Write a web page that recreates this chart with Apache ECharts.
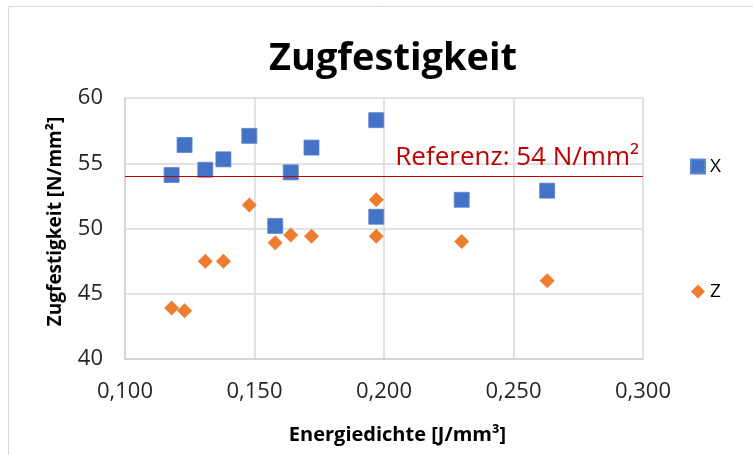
<!DOCTYPE html>
<html>
<head>
<meta charset="utf-8">
<script src="https://cdn.jsdelivr.net/npm/echarts@6/dist/echarts.min.js"></script>
<style>
  html, body { margin: 0; padding: 0; background: #fff; }
  #chart { width: 753px; height: 455px; }
</style>
</head>
<body>
<div id="chart"></div>
<script>
// Energy density [J/mm³] of each specimen pair
const energy = [0.118, 0.123, 0.131, 0.138, 0.148, 0.158, 0.164, 0.172, 0.197, 0.197, 0.230, 0.263];
// Tensile strength [N/mm²] per build direction
const strengthX = [54.1, 56.4, 54.5, 55.3, 57.1, 50.2, 54.3, 56.2, 58.3, 50.9, 52.2, 52.9];
const strengthZ = [43.9, 43.7, 47.5, 47.5, 51.8, 48.9, 49.5, 49.4, 52.2, 49.4, 49.0, 46.0];
const seriesNames = ['X', 'Z'];
const referenceValue = 54;
const xTicks = [0.1, 0.3, 0.05];
const yTicks = [40, 60, 5];

const FONT = '"Open Sans", "Noto Sans", sans-serif';
const pairs = (ys) => energy.map((x, i) => [x, ys[i]]);

const chart = echarts.init(document.getElementById('chart'), null, { renderer: 'canvas' });
chart.setOption({
  animation: false,
  backgroundColor: '#ffffff',
  textStyle: { fontFamily: FONT },
  title: {
    text: 'Zugfestigkeit',
    left: 388,
    top: 35,
    textAlign: 'center',
    textStyle: { fontFamily: FONT, fontSize: 38, fontWeight: 'bold', color: '#000000' }
  },
  grid: { left: 125, top: 98, right: 110, bottom: 96, containLabel: false },
  xAxis: {
    type: 'value',
    min: xTicks[0], max: xTicks[1], interval: xTicks[2],
    name: 'Energiedichte [J/mm³]',
    nameLocation: 'middle',
    nameGap: 66,
    nameTextStyle: { fontFamily: FONT, fontSize: 20, fontWeight: 'bold', color: '#000000', padding: [0, 0, 0, 27] },
    axisLine: { show: true, lineStyle: { color: '#D0D0D0', width: 1.5 } },
    axisTick: { show: false },
    splitLine: { show: true, lineStyle: { color: '#D9D9D9', width: 1.5 } },
    axisLabel: {
      fontFamily: FONT, fontSize: 22, color: '#262626', margin: 22,
      formatter: (v) => v.toFixed(3).replace('.', ',')
    }
  },
  yAxis: {
    type: 'value',
    min: yTicks[0], max: yTicks[1], interval: yTicks[2],
    name: 'Zugfestigkeit [N/mm²]',
    nameLocation: 'middle',
    nameGap: 60,
    nameTextStyle: { fontFamily: FONT, fontSize: 19, fontWeight: 'bold', color: '#000000', padding: [0, 0, 0, 14] },
    axisLine: { show: true, lineStyle: { color: '#D0D0D0', width: 1.5 } },
    axisTick: { show: false },
    splitLine: { show: true, lineStyle: { color: '#D9D9D9', width: 1.5 } },
    axisLabel: { fontFamily: FONT, fontSize: 22, color: '#262626', margin: 22 }
  },
  legend: {
    orient: 'vertical',
    left: 685,
    top: 152,
    itemWidth: 14,
    itemHeight: 14,
    itemGap: 106,
    textStyle: { fontFamily: FONT, fontSize: 19, color: '#000000', padding: [0, 0, 0, 0] },
    data: [
      { name: seriesNames[0], icon: 'rect' },
      { name: seriesNames[1], icon: 'diamond' }
    ]
  },
  graphic: [{
    type: 'rect',
    shape: { x: 8.5, y: 6.5, width: 800, height: 500 },
    style: { fill: 'none', stroke: '#D9D9D9', lineWidth: 1 },
    silent: true,
    z: -1
  }],
  series: [
    {
      name: seriesNames[0],
      type: 'scatter',
      symbol: 'rect',
      symbolSize: 15,
      itemStyle: { color: '#4472C4', borderColor: '#5B85D0', borderWidth: 0.8, opacity: 1 },
      data: pairs(strengthX),
      z: 3,
      markLine: {
        silent: true,
        symbol: 'none',
        lineStyle: { color: '#C00000', width: 1, type: 'solid' },
        label: {
          show: true,
          position: 'insideEndTop',
          formatter: 'Referenz: ' + referenceValue + ' N/mm²',
          fontFamily: FONT,
          fontSize: 26,
          color: '#C00000',
          distance: [4, 6]
        },
        data: [{ yAxis: referenceValue }]
      }
    },
    {
      name: seriesNames[1],
      type: 'scatter',
      symbol: 'diamond',
      symbolSize: 15,
      itemStyle: { color: '#ED7D31', opacity: 1 },
      data: pairs(strengthZ),
      z: 3
    }
  ]
});
</script>
</body>
</html>
